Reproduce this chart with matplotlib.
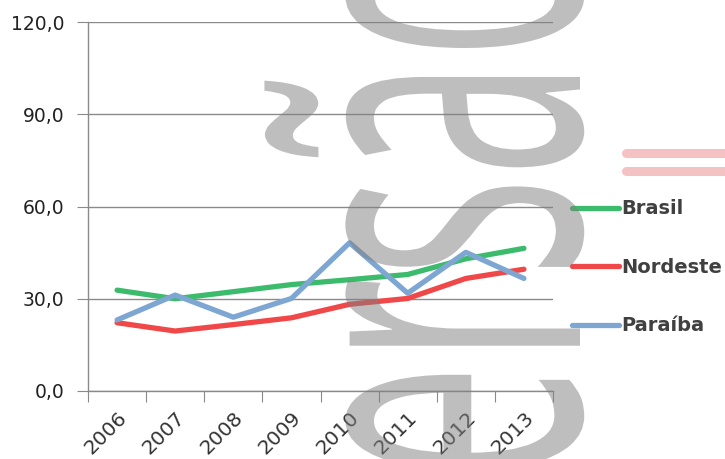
import numpy as np
import matplotlib
matplotlib.use("Agg")
import matplotlib.pyplot as plt
from matplotlib.lines import Line2D
from matplotlib.patheffects import AbstractPathEffect
from matplotlib.transforms import Affine2D

anos = ["2006", "2007", "2008", "2009", "2010", "2011", "2012", "2013"]
brasil = [32.8, 30.0, 32.3, 34.6, 36.2, 37.9, 43.0, 46.4]
nordeste = [22.2, 19.5, 21.6, 23.8, 28.2, 30.1, 36.6, 39.6]
paraiba = [23.1, 31.2, 24.0, 30.1, 48.2, 31.8, 45.1, 36.6]
yticks = [0, 30, 60, 90, 120]


class Stretch(AbstractPathEffect):
	# squeeze glyphs along the text direction
	def __init__(self, sx):
		super().__init__()
		self.sx = sx

	def draw_path(self, renderer, gc, tpath, affine, rgbFace=None):
		renderer.draw_path(gc, tpath, Affine2D().scale(self.sx, 1.0) + affine, rgbFace)


fig = plt.figure(figsize=(7.25, 4.59), dpi=100)
ax = fig.add_axes([88/725., 1-391/459., 465/725., 369/459.])

x = np.arange(len(anos))
ax.plot(x, brasil, color="#3dbb6c", lw=3.8, label="Brasil", solid_capstyle="round")
ax.plot(x, nordeste, color="#f04848", lw=3.8, label="Nordeste", solid_capstyle="round")
ax.plot(x, paraiba, color="#7ea6d3", lw=3.8, label="Paraíba", solid_capstyle="round")

ax.set_xlim(-0.5, len(anos) - 0.5)
ax.set_ylim(0, 120)
ax.set_yticks(yticks)
ax.yaxis.set_major_formatter(matplotlib.ticker.FuncFormatter(lambda v, p: ("%.1f" % v).replace(".", ",")))
ax.grid(axis="y", color="#8a8a8a", lw=1.0)
ax.set_axisbelow(True)

ax.set_xticks(np.arange(len(anos) + 1) - 0.5)
ax.set_xticklabels([])
ax.set_xticks(x, minor=True)
ax.set_xticklabels(anos, minor=True, rotation=45, ha="right", va="top", rotation_mode="anchor", fontsize=14.5, color="#333333")
ax.tick_params(axis="x", which="minor", length=0, pad=12)
ax.tick_params(axis="x", which="major", length=8, color="#8a8a8a", direction="out")
ax.tick_params(axis="y", length=8, color="#8a8a8a", labelsize=13.5, labelcolor="#222222", pad=9)

for s in ["top", "right"]:
	ax.spines[s].set_visible(False)
for s in ["left", "bottom"]:
	ax.spines[s].set_color("#8a8a8a")
	ax.spines[s].set_linewidth(1.0)

leg = ax.legend(loc="center left", bbox_to_anchor=(0.004, 0.335), bbox_transform=ax.transAxes, frameon=False,
	prop={"size": 14, "weight": "bold"}, handlelength=2.4, handletextpad=0.12, labelspacing=2.03)
leg.set_bbox_to_anchor((1.004, 0.335), transform=ax.transAxes)
for t in leg.get_texts():
	t.set_color("#404040")

# watermark
fig.text(580/725., 1-608/459., "Versão", rotation=90, rotation_mode="anchor", ha="left", va="baseline",
	family="Open Sans", fontsize=310, color="#7f7f7f", alpha=0.5, zorder=10,
	path_effects=[Stretch(0.49)])

for yy in [153, 171]:
	fig.add_artist(Line2D([626/725., 1.02], [1-yy/459., 1-yy/459.], color="#f4c2c2", lw=6.5, solid_capstyle="round"))

fig.savefig("out.png", dpi=100)
